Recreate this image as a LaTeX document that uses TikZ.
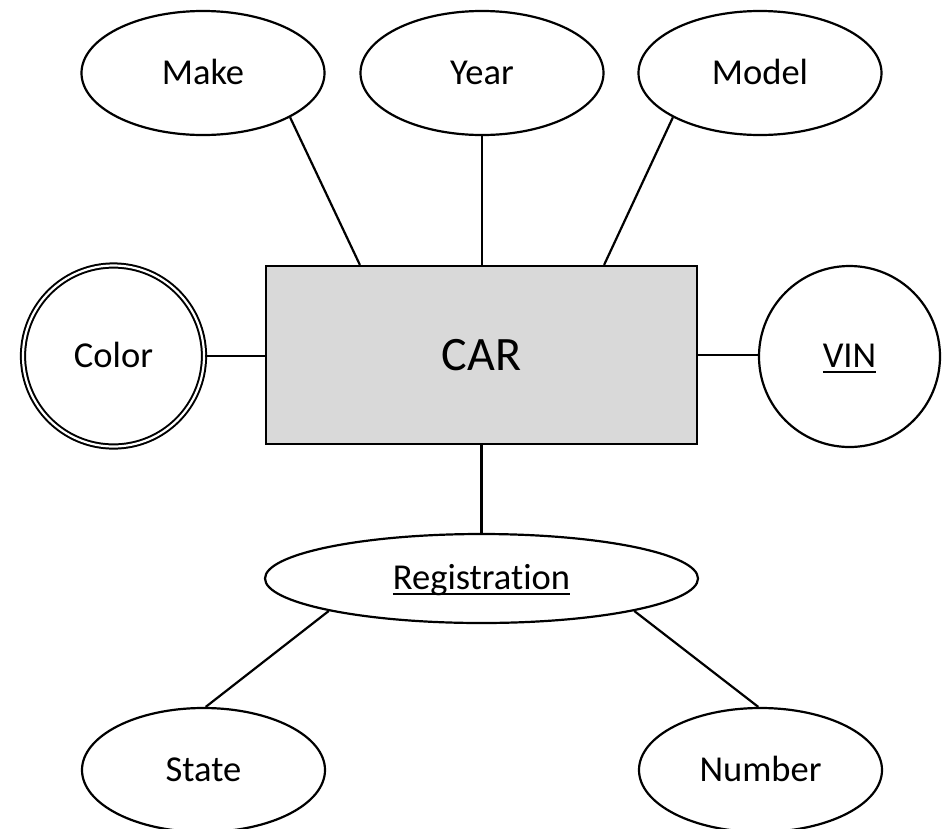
\documentclass[tikz,border=0pt]{standalone}
\usepackage{fontspec}
\setmainfont{Carlito}[Ligatures=NoCommon]
\usetikzlibrary{shapes.geometric,calc}
\newcommand\myul[1]{\setbox0\hbox{#1}\rlap{\rule[-5.5pt]{\wd0}{2.2pt}}\box0}
\tikzset{
  lbl/.style={font=\fontsize{36.5}{36.5}\selectfont, text height=22.5pt, text depth=0pt},
  attr/.style={draw, ellipse, line width=2.2pt, inner sep=0pt, minimum width=243pt, minimum height=124pt, lbl},
  dattr/.style={draw, circle, double, line width=2pt, double distance=2.2pt, inner sep=0pt, minimum size=181pt, lbl},
  kattr/.style={draw, circle, line width=2.2pt, inner sep=0pt, minimum size=181pt, lbl},
  entity/.style={draw, rectangle, fill=black!15, line width=2.2pt, inner sep=0pt, minimum width=431pt, minimum height=178pt, font=\fontsize{48}{48}\selectfont, text height=30pt, text depth=0pt},
  conn/.style={line width=2.2pt}
}
\begin{document}
\begin{tikzpicture}[x=1pt,y=-1pt]
\useasboundingbox (0,0) rectangle (948,828);
\node[entity] (car) at (481.5,355) {CAR};
\node[attr] (make) at (203,73) {Make};
\node[attr] (year) at (482,73) {Year};
\node[attr] (model) at (760,73) {Model};
\node[dattr] (color) at (113.5,356) {Color};
\node[kattr] (vin) at (849.5,356.5) {\myul{VIN}};
\node[attr, minimum width=433pt, minimum height=89pt] (reg) at (481.5,578.5) {\myul{Registration}};
\node[attr] (state) at (203.5,770) {State};
\node[attr] (number) at (760.5,770) {Number};
\draw[conn] (make.-27) -- ([xshift=95pt]car.north west);
\draw[conn] (year.south) -- (year.south |- car.north);
\draw[conn] (model.-153) -- ([xshift=-94pt]car.north east);
\draw[conn] (color.east) -- (color.east -| car.west);
\draw[conn] (car.east) -- (car.east -| vin.west);
\draw[conn] (car.south) -- (reg.north);
\draw[conn] (reg.-168) -- (state.88);
\draw[conn] (reg.-12) -- (number.92);
\end{tikzpicture}
\end{document}
